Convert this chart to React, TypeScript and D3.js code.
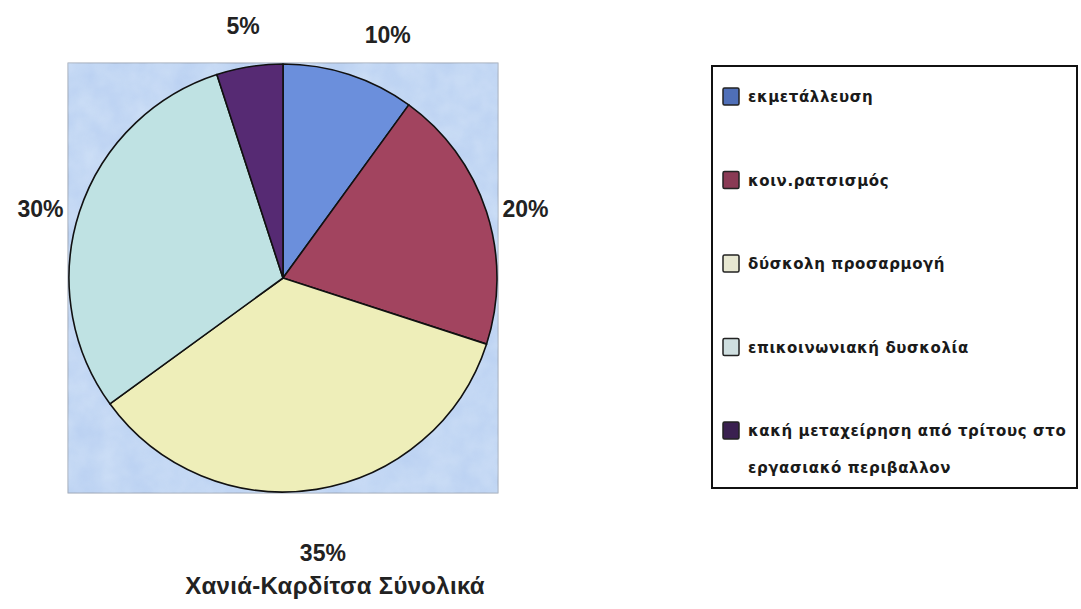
import React from "react";
import * as d3 from "d3";

// slices, clockwise from 12 o'clock
const categories = [
  "εκμετάλλευση",
  "κοιν.ρατσισμός",
  "δύσκολη προσαρμογή",
  "επικοινωνιακή δυσκολία",
  "κακή μεταχείρηση από τρίτους στο εργασιακό περιβαλλον",
];
const values = [10, 20, 35, 30, 5];
const colors = ["#6b8fdc", "#a2445f", "#eeeeb9", "#bfe2e3", "#562a73"];
const legendColors = ["#4f6fb8", "#8a3a55", "#e8e8d2", "#cfdfe0", "#3a2050"];
// legend labels that wrap onto two lines
const legendLines = [
  ["εκμετάλλευση"],
  ["κοιν.ρατσισμός"],
  ["δύσκολη προσαρμογή"],
  ["επικοινωνιακή δυσκολία"],
  ["κακή μεταχείρηση από τρίτους στο", "εργασιακό περιβαλλον"],
];
const title = "Χανιά-Καρδίτσα Σύνολικά";

const W = 1081;
const H = 609;

export default function App() {
  const ref = React.useRef<SVGSVGElement>(null);

  React.useEffect(() => {
    const svg = d3.select(ref.current);
    svg.selectAll("*").remove();

    const cx = 283, cy = 278, r = 214;
    const labelFont = "'Liberation Sans', Arial, sans-serif";

    // textured light blue plot area
    const defs = svg.append("defs");
    const filter = defs.append("filter").attr("id", "tex").attr("x", 0).attr("y", 0).attr("width", 1).attr("height", 1);
    filter.append("feTurbulence").attr("type", "fractalNoise").attr("baseFrequency", 0.04).attr("numOctaves", 3).attr("seed", 4).attr("result", "n");
    filter.append("feColorMatrix").attr("in", "n").attr("type", "matrix")
      .attr("values", "0 0 0 0 0.70  0 0 0 0 0.81  0 0 0 0 0.95  0 0 0 -1.2 1.0");
    filter.append("feComposite").attr("in2", "SourceGraphic").attr("operator", "in");

    svg.append("rect").attr("width", W).attr("height", H).attr("fill", "#ffffff");

    svg.append("rect")
      .attr("x", cx - r - 1).attr("y", cy - r - 1)
      .attr("width", 2 * r + 2).attr("height", 2 * r + 2)
      .attr("fill", "#bcd2f2").attr("stroke", "#9aa4b4").attr("stroke-width", 1);
    svg.append("rect")
      .attr("x", cx - r - 1).attr("y", cy - r - 1)
      .attr("width", 2 * r + 2).attr("height", 2 * r + 2)
      .attr("fill", "#eef4fc").attr("filter", "url(#tex)").attr("opacity", 0.6);

    const pie = d3.pie<number>().sort(null).value(d => d);
    const arcs = pie(values);
    const arc = d3.arc<d3.PieArcDatum<number>>().innerRadius(0).outerRadius(r);

    const g = svg.append("g").attr("transform", `translate(${cx},${cy})`);
    g.selectAll("path")
      .data(arcs)
      .join("path")
      .attr("d", arc)
      .attr("fill", (d, i) => colors[i])
      .attr("stroke", "#111")
      .attr("stroke-width", 1.6)
      .attr("stroke-linejoin", "round");

    // percentage labels outside the plot area
    const total = d3.sum(values);
    const lr = 255;
    g.selectAll("text.pct")
      .data(arcs)
      .join("text")
      .attr("class", "pct")
      .attr("x", d => {
        const a = (d.startAngle + d.endAngle) / 2;
        return lr * Math.sin(a) + (Math.sin(a) > 0.2 && Math.cos(a) > 0.5 ? 26 : 0);
      })
      .attr("y", d => {
        const a = (d.startAngle + d.endAngle) / 2;
        const c = Math.cos(a);
        return -lr * c + (c < -0.5 ? 23 : 0) + (Math.abs(c) < 0.5 ? 10 : 0);
      })
      .attr("text-anchor", "middle")
      .attr("dominant-baseline", "central")
      .attr("font-family", labelFont)
      .attr("font-weight", "bold")
      .attr("font-size", 23)
      .attr("fill", "#222")
      .text(d => `${Math.round((d.value / total) * 100)}%`);

    svg.append("text")
      .attr("x", 335).attr("y", 594)
      .attr("text-anchor", "middle")
      .attr("font-family", labelFont)
      .attr("font-weight", "bold")
      .attr("font-size", 24)
      .attr("letter-spacing", 0.3)
      .attr("fill", "#222")
      .text(title);

    // legend
    const lx = 712, ly = 66, lw = 365, lh = 422;
    svg.append("rect")
      .attr("x", lx).attr("y", ly).attr("width", lw).attr("height", lh)
      .attr("fill", "#fff").attr("stroke", "#111").attr("stroke-width", 2);

    const rows = d3.scalePoint<number>().domain(d3.range(categories.length)).range([96, 430]);
    const item = svg.append("g").selectAll("g")
      .data(categories)
      .join("g")
      .attr("transform", (d, i) => `translate(${lx + 10},${rows(i)})`);
    item.append("rect")
      .attr("x", 1).attr("y", -8).attr("width", 16).attr("height", 17).attr("rx", 1.5)
      .attr("fill", (d, i) => legendColors[i])
      .attr("stroke", "#222").attr("stroke-width", 1.5);
    item.selectAll("text")
      .data((d, i) => legendLines[i])
      .join("text")
      .attr("x", 26)
      .attr("y", (d, j) => 1 + j * 37)
      .attr("dominant-baseline", "central")
      .attr("font-family", "'DejaVu Sans', sans-serif")
      .attr("font-weight", "bold")
      .attr("font-size", 15)
      .attr("letter-spacing", 0.6)
      .attr("fill", "#1a1a1a")
      .text(d => d);
  }, []);

  return (
    <svg ref={ref} width={W} height={H} style={{ position: "absolute", left: 0, top: 0 }} />
  );
}
